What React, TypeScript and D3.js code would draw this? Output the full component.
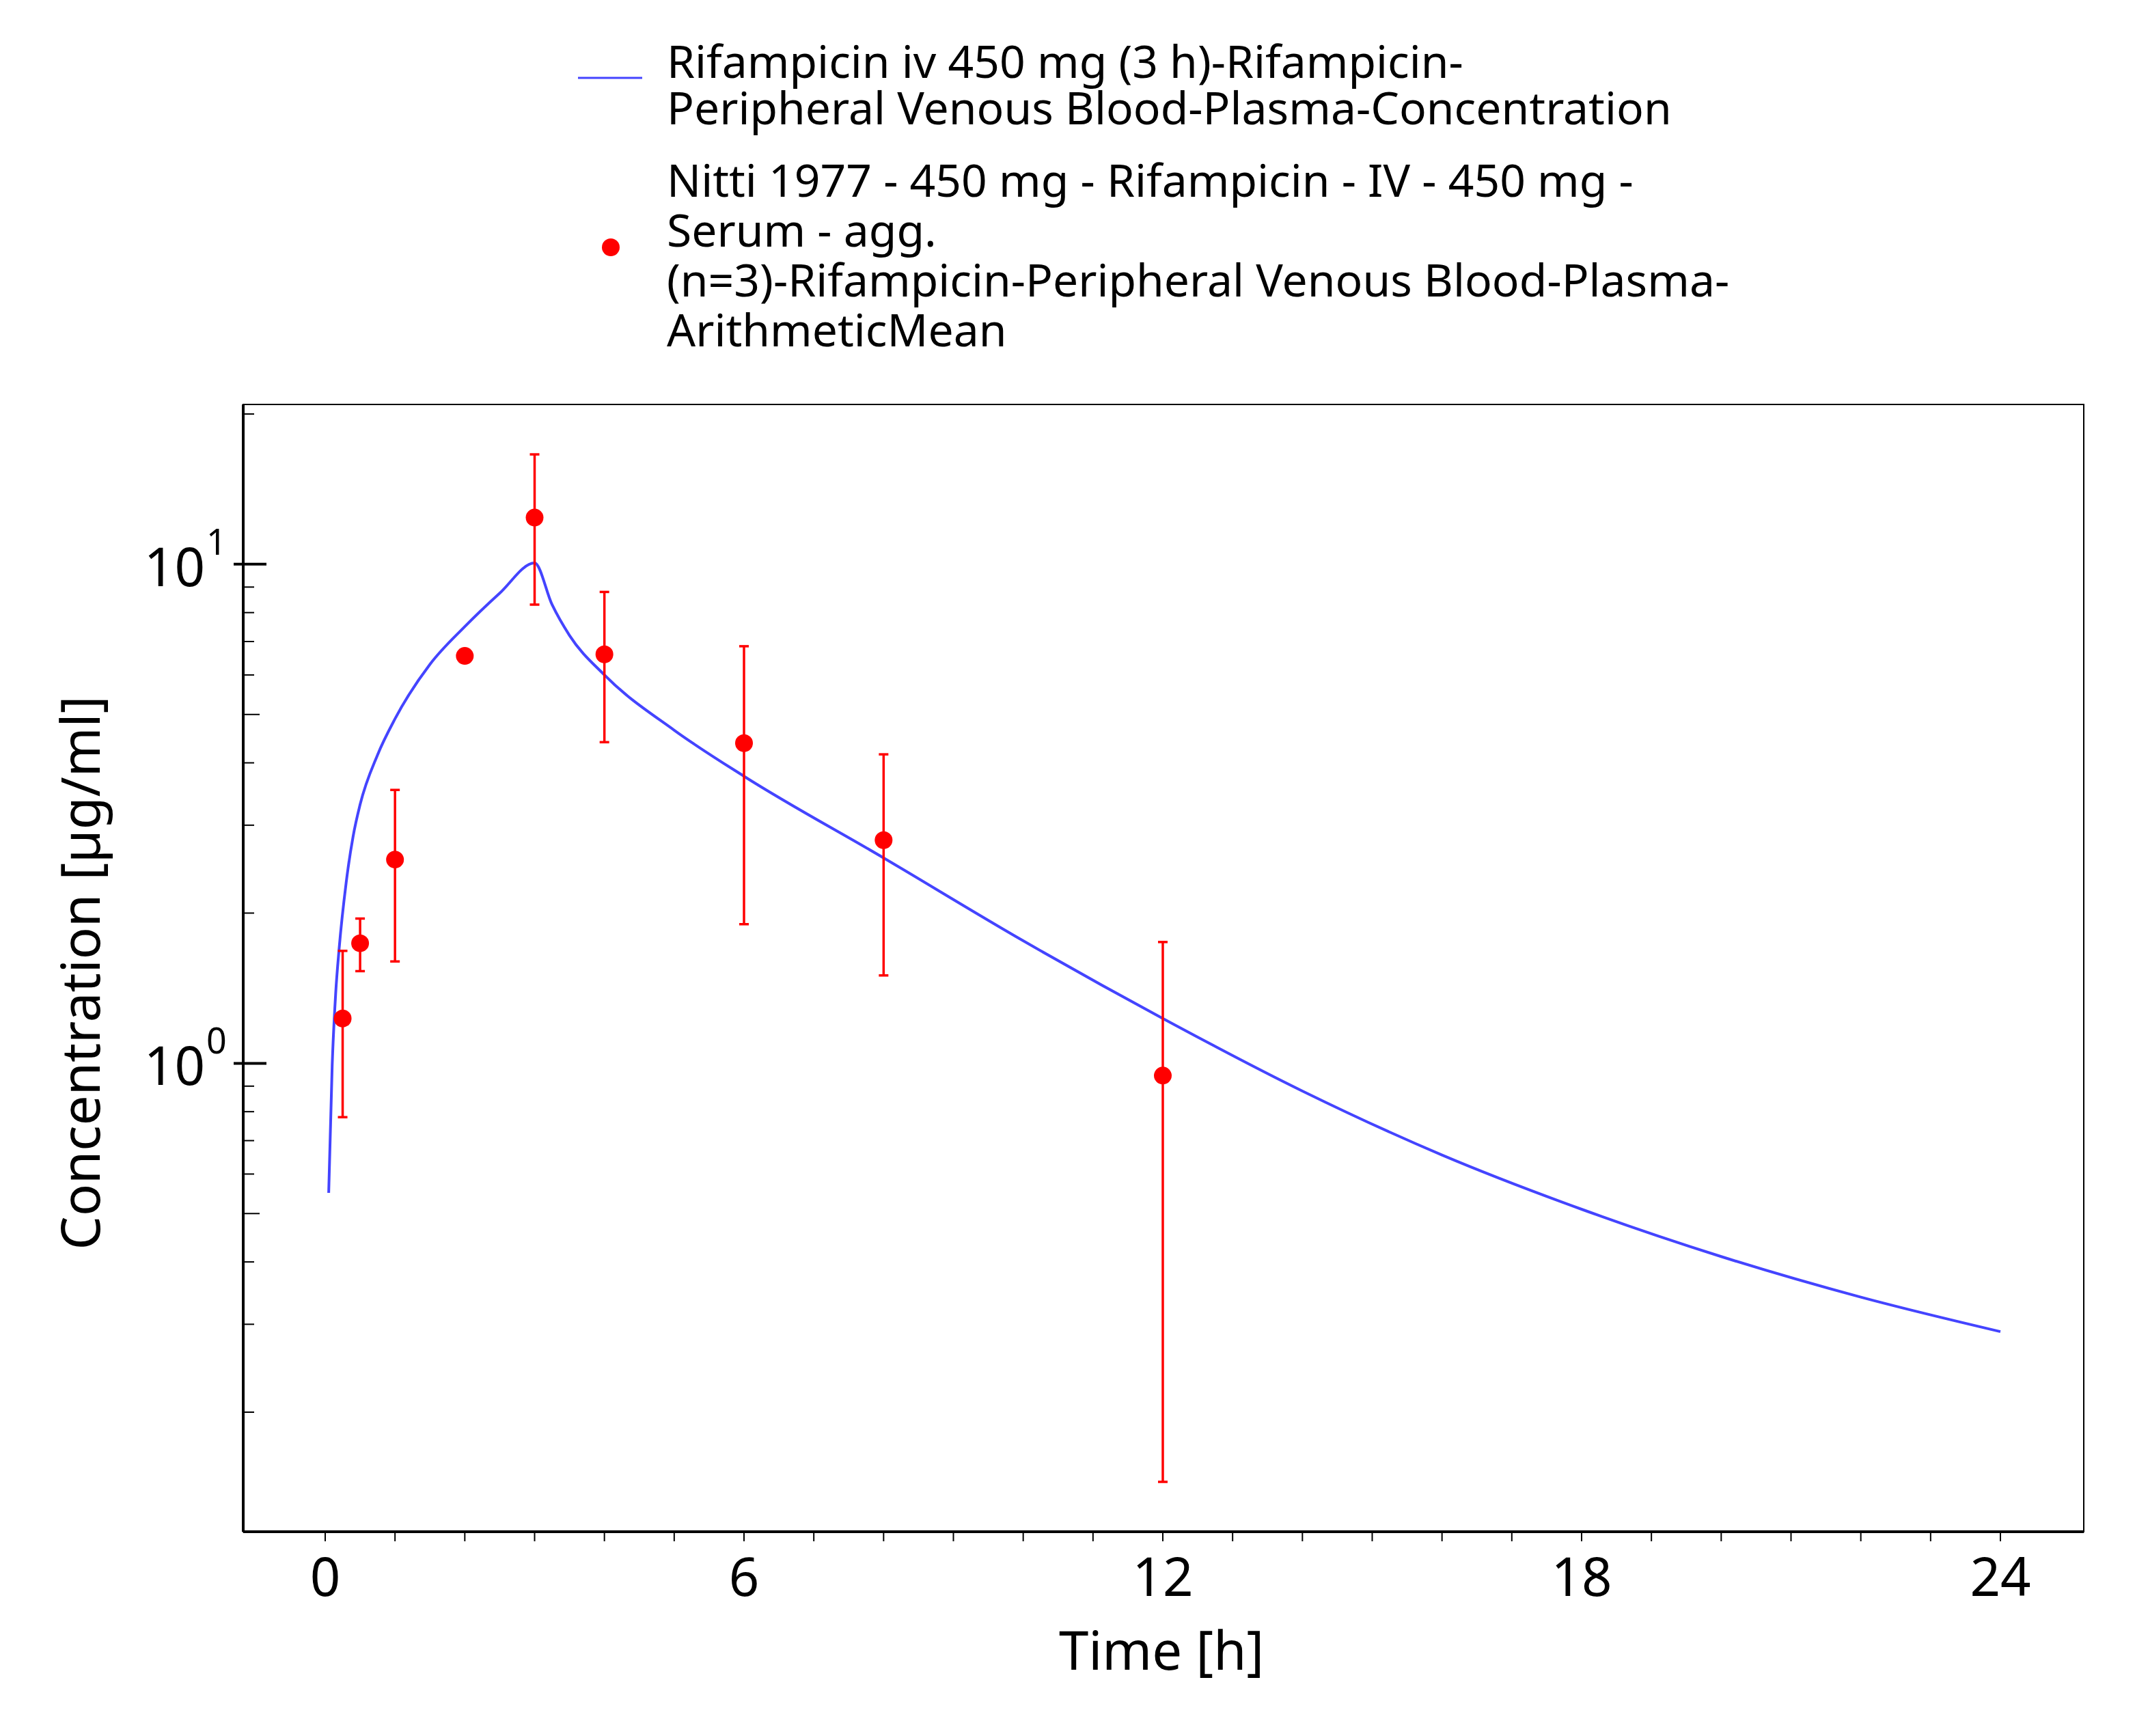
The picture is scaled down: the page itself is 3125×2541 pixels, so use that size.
import * as d3 from 'd3';

const simTime = [0.05, 0.1, 0.15, 0.2, 0.3, 0.4, 0.5, 0.75, 1, 1.5, 2, 2.5, 3, 3.25, 3.5, 4, 5, 6, 8, 10, 12, 14, 16, 18, 20, 22, 24];
const simConc = [0.55, 0.99, 1.38, 1.7, 2.3, 2.85, 3.3, 4.15, 4.9, 6.3, 7.5, 8.75, 10.06, 8.3, 7.2, 6.0, 4.65, 3.76, 2.58, 1.76, 1.23, 0.88, 0.655, 0.51, 0.41, 0.34, 0.29];

const obsTime = [0.25, 0.5, 1, 2, 3, 4, 6, 8, 12];
const obsMean = [1.23, 1.74, 2.56, 6.55, 12.4, 6.6, 4.38, 2.8, 0.945];
const obsHigh = [1.68, 1.95, 3.53, 6.7, 16.6, 8.8, 6.85, 4.16, 1.75];
const obsLow = [0.78, 1.53, 1.6, 6.45, 8.3, 4.4, 1.9, 1.5, 0.145];

const xTicks = [0, 6, 12, 18, 24];
const legendSim = ['Rifampicin iv 450 mg (3 h)-Rifampicin-', 'Peripheral Venous Blood-Plasma-Concentration'];
const legendObs = ['Nitti 1977 - 450 mg - Rifampicin - IV - 450 mg -', 'Serum - agg.', '(n=3)-Rifampicin-Peripheral Venous Blood-Plasma-', 'ArithmeticMean'];

const W = 3125, H = 2541;
const L = 356, R = 3050, T = 592, B = 2242;
const font = "'Noto Sans', sans-serif";

export default function App() {
  const x = d3.scaleLinear().domain([0, 24]).range([476, 2928]);
  const y = d3.scaleLog().domain([0.1152, 20.9]).range([B, T]);
  const line = d3.line<number>().x((_, i) => x(simTime[i])).y((d) => y(d)).curve(d3.curveMonotoneX);

  const minor: number[] = [];
  for (const dec of [0.1, 1, 10]) for (let k = 1; k < 10; k++) {
    const v = dec * k;
    if (v >= 0.1152 && v <= 20.9) minor.push(v);
  }
  const hours = d3.range(0, 25);

  return (
    <svg width={W} height={H} style={{ position: 'absolute', left: 0, top: 0, background: '#fff' }} fontFamily={font}>
      {/* legend */}
      <line x1={846} x2={940} y1={114} y2={114} stroke="#4444ff" strokeWidth={3} />
      {legendSim.map((t, i) => (
        <text key={t} x={976} y={114 + 68 * i} fontSize={66}>{t}</text>
      ))}
      <circle cx={894} cy={362} r={13} fill="red" />
      {legendObs.map((t, i) => (
        <text key={t} x={976} y={288 + 73 * i} fontSize={66}>{t}</text>
      ))}

      {/* frame */}
      <rect x={L} y={T} width={R - L} height={B - T} fill="none" stroke="#000" strokeWidth={2} />
      <line x1={L} x2={R} y1={B} y2={B} stroke="#000" strokeWidth={4} />
      <line x1={L} x2={L} y1={T} y2={B} stroke="#000" strokeWidth={4} />

      {/* x ticks */}
      {hours.map((h) => (
        <line key={h} x1={x(h)} x2={x(h)} y1={B} y2={B + 14} stroke="#000" strokeWidth={2} />
      ))}
      {xTicks.map((t) => (
        <text key={t} x={x(t)} y={2336} fontSize={78} textAnchor="middle">{t}</text>
      ))}
      <text x={1700} y={2444} fontSize={78} textAnchor="middle">Time [h]</text>

      {/* y ticks */}
      {minor.map((v) => {
        const major = Math.abs(Math.log10(v) - Math.round(Math.log10(v))) < 1e-9;
        const five = !major && Math.abs(v / Math.pow(10, Math.floor(Math.log10(v) + 1e-9)) - 5) < 1e-6;
        return (
          <line key={v} x1={major ? L - 14 : L} x2={L + (major ? 34 : five ? 24 : 16)} y1={y(v)} y2={y(v)} stroke="#000" strokeWidth={major ? 4 : 2} />
        );
      })}
      {[1, 10].map((v, i) => (
        <g key={v}>
          <text x={300} y={y(v) + 32} fontSize={78} textAnchor="end">10</text>
          <text x={302} y={y(v) - 14} fontSize={52}>{i}</text>
        </g>
      ))}
      <text transform={`translate(116,1424) rotate(-90)`} fontSize={78} textAnchor="middle" dominantBaseline="central">Concentration [µg/ml]</text>

      {/* simulation */}
      <path d={line(simConc) ?? ''} fill="none" stroke="#4444ff" strokeWidth={4} />

      {/* observations */}
      {obsTime.map((t, i) => (
        <g key={t} stroke="red" strokeWidth={3.5}>
          <line x1={x(t)} x2={x(t)} y1={y(obsLow[i])} y2={y(obsHigh[i])} />
          <line x1={x(t) - 7} x2={x(t) + 7} y1={y(obsLow[i])} y2={y(obsLow[i])} />
          <line x1={x(t) - 7} x2={x(t) + 7} y1={y(obsHigh[i])} y2={y(obsHigh[i])} />
          <circle cx={x(t)} cy={y(obsMean[i])} r={13} fill="red" stroke="none" />
        </g>
      ))}
    </svg>
  );
}
